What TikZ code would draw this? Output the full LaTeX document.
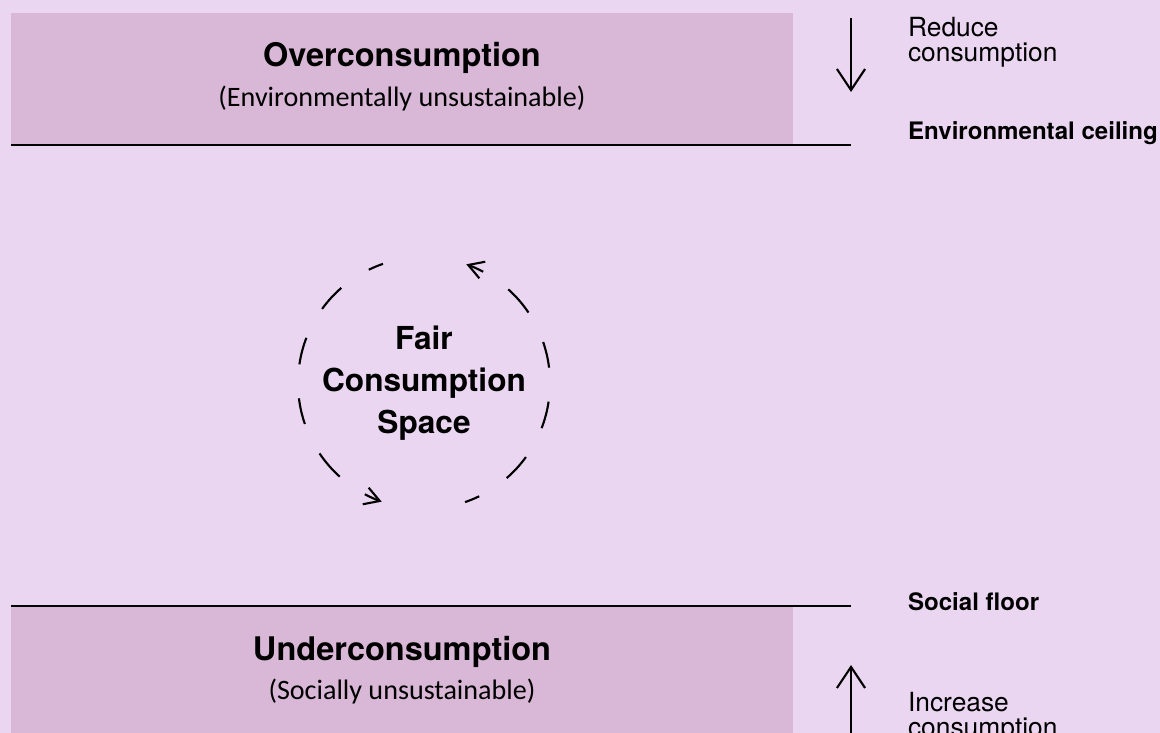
\documentclass[tikz,border=0pt]{standalone}
\usepackage{fontspec}
\setmainfont{TeX Gyre Heros}
\newfontfamily\subfont{Carlito}
\usetikzlibrary{arrows.meta}
\definecolor{bgpurple}{RGB}{234,214,240}
\definecolor{bandpurple}{RGB}{217,183,214}

\begin{document}
\begin{tikzpicture}[x=0.02cm, y=0.02cm, line width=1.2pt,
    bandtitle/.style={font=\bfseries\fontsize{18.5}{22}\selectfont},
    bandsub/.style={font=\subfont\fontsize{16}{19}\selectfont},
    sidenote/.style={anchor=west, align=left, inner sep=0pt, font=\fontsize{15}{14.2}\selectfont},
    limitlabel/.style={anchor=west, inner sep=0pt, font=\bfseries\fontsize{13.7}{16}\selectfont},
    shiftarrow/.style={-{Straight Barb[length=12pt, width=16pt]}},
    looparrow/.style={-{Straight Barb[length=8.5pt, width=10pt]}}]
				\def\r{126}
				\fill[bgpurple] (0,0) rectangle (1160,733);
				\useasboundingbox (0,0) rectangle (1160,733);
				% bands
				\fill[bandpurple] (11,588) rectangle (793,720);
				\fill[bandpurple] (11,0) rectangle (793,126);
				\coordinate (ceil_l)  at (11,588);
				\coordinate (ceil_r)  at (851,588);
				\coordinate (floor_l) at (11,127);
				\coordinate (floor_r) at (851,127);
				\draw[line width=1.3pt] (ceil_l) -- (ceil_r);
				\draw[line width=1.3pt] (floor_l) -- (floor_r);
				\node[bandtitle] (over)     at (402,675) {Overconsumption};
				\node[bandsub]   (over_sub) at (402,635) {(Environmentally unsustainable)};
				\node[bandtitle] (under)     at (402,81) {Underconsumption};
				\node[bandsub]   (under_sub) at (402,42) {(Socially unsustainable)};
				% side arrows and labels
				\coordinate (down_s) at (851,715);
				\coordinate (down_e) at (851,641);
				\coordinate (up_s)   at (851,0);
				\coordinate (up_e)   at (851,68);
				\draw[shiftarrow] (down_s) -- (down_e);
				\draw[shiftarrow] (up_s) -- (up_e);
				\node[sidenote]   (reduce)   at (907,691) {Reduce\\consumption};
				\node[sidenote]   (increase) at (907,16)  {Increase\\consumption};
				\node[limitlabel] (ceiling)  at (907,600) {Environmental ceiling};
				\node[limitlabel] (floor)    at (907,131) {Social floor};
				% fair space
				\begin{scope}[shift={(424,350)}]
					\node[align=center, font=\bfseries\fontsize{18}{23.8}\selectfont] (fair) at (0,0) {Fair\\Consumption\\Space};
					\foreach \a/\b in {109/116, 131/144, 159/171.5, 187/199, 214/228,
					                   289/296, 311/324, 339/351.5, 7/19, 34/48}
						\draw (\a:\r) arc[start angle=\a, end angle=\b, radius=2.52cm];
					\foreach \a/\b in {62/70.4, 242/250.4}
						\draw[looparrow] (\a:\r) arc[start angle=\a, end angle=\b, radius=2.52cm];
				\end{scope}
		\end{tikzpicture}
\end{document}
